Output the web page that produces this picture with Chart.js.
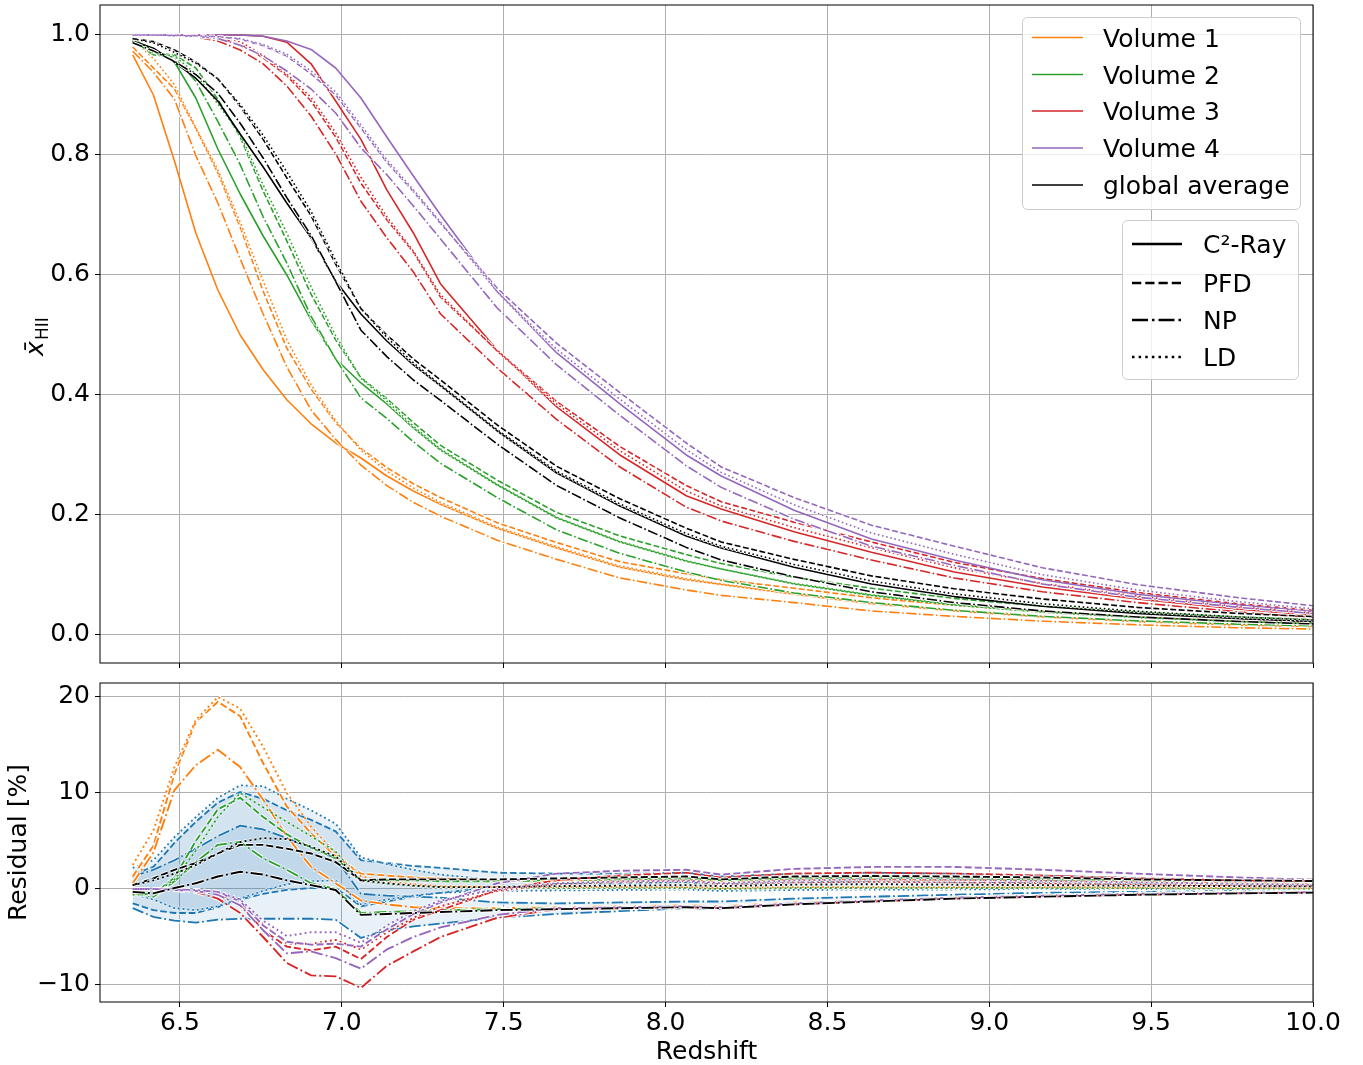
<!DOCTYPE html>
<html>
<head>
<meta charset="utf-8">
<script src="https://cdn.jsdelivr.net/npm/chart.js@4.4.0/dist/chart.umd.min.js"></script>
<style>
  html, body { margin: 0; padding: 0; background: #fff; }
  #wrap { position: relative; width: 1363px; height: 1065px; }
  #topChart { position: absolute; left: 0; top: 0; }
  #resChart { position: absolute; left: 0; top: 673px; }
</style>
</head>
<body>
<div id="wrap">
  <canvas id="topChart" width="1363" height="673"></canvas>
  <canvas id="resChart" width="1363" height="392"></canvas>
</div>
<script>
// Redshift samples and axis ticks
const redshift = [6.354, 6.418, 6.483, 6.549, 6.617, 6.686, 6.757, 6.830, 6.905, 6.981, 7.059, 7.139, 7.221,
  7.305, 7.480, 7.664, 7.859, 8.064, 8.172, 8.397, 8.636, 8.892, 9.164, 9.457, 9.771, 10.110];
const xTicks = [6.5, 7.0, 7.5, 8.0, 8.5, 9.0, 9.5, 10.0];
const topYTicks = [0, 0.2, 0.4, 0.6, 0.8, 1.0];
const resYTicks = [-10, 0, 10, 20];

const volumeNames = ["Volume 1", "Volume 2", "Volume 3", "Volume 4", "global average"];
const methodNames = ["C\u00B2-Ray", "PFD", "NP", "LD"];

// Mean ionized fraction, one array per volume and method
const v1C2  = [0.967, 0.90, 0.79, 0.67, 0.575, 0.50, 0.442, 0.392, 0.352, 0.32, 0.295, 0.265, 0.24, 0.218, 0.178, 0.145, 0.113, 0.092, 0.084, 0.068, 0.052, 0.04, 0.03, 0.022, 0.016, 0.012];
const v1PFD = [0.980, 0.945, 0.91, 0.844, 0.77, 0.68, 0.573, 0.478, 0.41, 0.354, 0.311, 0.279, 0.252, 0.229, 0.187, 0.154, 0.122, 0.102, 0.092, 0.078, 0.062, 0.0495, 0.039, 0.030, 0.023, 0.018];
const v1NP  = [0.973, 0.938, 0.893, 0.799, 0.72, 0.627, 0.535, 0.447, 0.375, 0.326, 0.283, 0.249, 0.221, 0.198, 0.158, 0.126, 0.095, 0.075, 0.066, 0.054, 0.04, 0.031, 0.023, 0.017, 0.012, 0.009];
const v1LD  = [0.992, 0.961, 0.917, 0.846, 0.775, 0.688, 0.59, 0.492, 0.417, 0.357, 0.308, 0.273, 0.245, 0.221, 0.18, 0.147, 0.115, 0.094, 0.085, 0.07, 0.054, 0.042, 0.032, 0.0235, 0.017, 0.013];

const v2C2  = [0.993, 0.975, 0.955, 0.895, 0.81, 0.735, 0.665, 0.60, 0.525, 0.46, 0.42, 0.385, 0.345, 0.308, 0.25, 0.195, 0.155, 0.123, 0.11, 0.085, 0.066, 0.05, 0.038, 0.029, 0.022, 0.017];
const v2PFD = [0.989, 0.969, 0.967, 0.945, 0.893, 0.83, 0.74, 0.657, 0.568, 0.492, 0.429, 0.394, 0.354, 0.316, 0.258, 0.204, 0.165, 0.134, 0.119, 0.096, 0.078, 0.061, 0.048, 0.038, 0.03, 0.024];
const v2NP  = [0.989, 0.967, 0.963, 0.923, 0.856, 0.784, 0.697, 0.62, 0.531, 0.46, 0.395, 0.361, 0.322, 0.286, 0.229, 0.175, 0.136, 0.105, 0.091, 0.07, 0.054, 0.041, 0.031, 0.0235, 0.018, 0.014];
const v2LD  = [0.987, 0.97, 0.965, 0.935, 0.885, 0.835, 0.75, 0.67, 0.58, 0.499, 0.428, 0.39, 0.348, 0.31, 0.251, 0.196, 0.156, 0.124, 0.11, 0.086, 0.067, 0.051, 0.039, 0.03, 0.0225, 0.0175];

const v3C2  = [1.0, 1.0, 1.0, 1.0, 1.0, 1.0, 0.998, 0.988, 0.952, 0.89, 0.826, 0.742, 0.67, 0.585, 0.475, 0.38, 0.30, 0.232, 0.21, 0.172, 0.138, 0.105, 0.08, 0.06, 0.043, 0.028];
const v3PFD = [1.0, 1.0, 1.0, 0.999, 0.9955, 0.985, 0.962, 0.932, 0.89, 0.83, 0.753, 0.692, 0.638, 0.563, 0.474, 0.389, 0.314, 0.249, 0.222, 0.188, 0.155, 0.121, 0.094, 0.071, 0.052, 0.036];
const v3NP  = [0.999, 0.999, 0.999, 0.997, 0.99, 0.975, 0.952, 0.915, 0.865, 0.802, 0.723, 0.662, 0.605, 0.535, 0.445, 0.359, 0.28, 0.213, 0.19, 0.156, 0.125, 0.095, 0.072, 0.054, 0.0385, 0.0245];
const v3LD  = [1.0, 1.0, 1.0, 0.999, 0.997, 0.989, 0.966, 0.935, 0.896, 0.837, 0.763, 0.697, 0.64, 0.567, 0.473, 0.385, 0.307, 0.24, 0.215, 0.179, 0.1455, 0.112, 0.086, 0.065, 0.047, 0.031];

const v4C2  = [1.0, 1.0, 1.0, 1.0, 1.0, 1.0, 0.998, 0.99, 0.976, 0.945, 0.895, 0.83, 0.765, 0.70, 0.572, 0.47, 0.385, 0.30, 0.265, 0.208, 0.16, 0.125, 0.092, 0.068, 0.05, 0.034];
const v4PFD = [1.0, 1.0, 0.9995, 0.999, 0.997, 0.993, 0.982, 0.965, 0.935, 0.9, 0.845, 0.788, 0.739, 0.686, 0.578, 0.486, 0.404, 0.32, 0.28, 0.229, 0.183, 0.148, 0.112, 0.084, 0.062, 0.0425];
const v4NP  = [1.0, 1.0, 0.999, 0.998, 0.994, 0.983, 0.965, 0.94, 0.91, 0.87, 0.812, 0.767, 0.715, 0.66, 0.545, 0.45, 0.366, 0.282, 0.246, 0.193, 0.148, 0.116, 0.085, 0.063, 0.046, 0.031];
const v4LD  = [1.0, 1.0, 0.9995, 0.999, 0.997, 0.994, 0.984, 0.968, 0.94, 0.905, 0.85, 0.792, 0.742, 0.688, 0.572, 0.476, 0.393, 0.309, 0.271, 0.217, 0.17, 0.1345, 0.1005, 0.075, 0.0555, 0.038];

const globC2  = [0.99, 0.978, 0.955, 0.928, 0.89, 0.835, 0.78, 0.72, 0.662, 0.59, 0.535, 0.49, 0.45, 0.415, 0.34, 0.27, 0.215, 0.165, 0.145, 0.113, 0.085, 0.064, 0.048, 0.036, 0.027, 0.02];
const globPFD = [0.994, 0.989, 0.975, 0.955, 0.927, 0.881, 0.826, 0.762, 0.699, 0.618, 0.544, 0.5, 0.46, 0.425, 0.35, 0.281, 0.227, 0.178, 0.155, 0.126, 0.0985, 0.077, 0.06, 0.046, 0.036, 0.028];
const globNP  = [0.987, 0.9735, 0.956, 0.934, 0.903, 0.853, 0.795, 0.729, 0.666, 0.589, 0.508, 0.464, 0.425, 0.391, 0.318, 0.249, 0.195, 0.146, 0.125, 0.097, 0.072, 0.054, 0.04, 0.03, 0.0225, 0.0165];
const globLD  = [0.994, 0.987, 0.971, 0.953, 0.927, 0.884, 0.833, 0.772, 0.706, 0.624, 0.544, 0.496, 0.4535, 0.417, 0.342, 0.273, 0.2185, 0.169, 0.148, 0.1175, 0.09, 0.0685, 0.052, 0.0395, 0.03, 0.0225];

// Residuals [%] against C2-Ray
const resV1PFD = [1.3, 4.5, 12.0, 17.4, 19.5, 18.0, 13.1, 8.6, 5.8, 3.4, 1.6, 1.4, 1.2, 1.1, 0.9, 0.9, 0.9, 1.0, 0.8, 1.0, 1.0, 0.95, 0.9, 0.8, 0.7, 0.6];
const resV1NP  = [0.6, 3.8, 10.3, 12.9, 14.5, 12.7, 9.3, 5.5, 2.3, 0.6, -1.2, -1.6, -1.9, -2.0, -2.0, -1.9, -1.8, -1.7, -1.8, -1.4, -1.2, -0.9, -0.7, -0.5, -0.4, -0.3];
const resV1LD  = [2.5, 6.1, 12.7, 17.6, 20.0, 18.8, 14.8, 10.0, 6.5, 3.7, 1.3, 0.8, 0.5, 0.3, 0.2, 0.2, 0.2, 0.2, 0.1, 0.2, 0.2, 0.2, 0.2, 0.15, 0.1, 0.1];
const resV2PFD = [-0.4, -0.6, 1.2, 5.0, 8.3, 9.5, 7.5, 5.7, 4.3, 3.2, 0.9, 0.9, 0.9, 0.8, 0.8, 0.9, 1.0, 1.1, 0.9, 1.1, 1.2, 1.1, 1.0, 0.9, 0.8, 0.7];
const resV2NP  = [-0.4, -0.8, 0.8, 2.8, 4.6, 4.9, 3.2, 2.0, 0.6, 0.0, -2.5, -2.4, -2.3, -2.2, -2.1, -2.0, -1.9, -1.8, -1.9, -1.5, -1.2, -0.9, -0.7, -0.55, -0.4, -0.3];
const resV2LD  = [-0.6, -0.5, 1.0, 4.0, 7.5, 10.0, 8.5, 7.0, 5.5, 3.9, 0.8, 0.5, 0.3, 0.2, 0.1, 0.1, 0.1, 0.1, 0.0, 0.1, 0.1, 0.1, 0.1, 0.1, 0.05, 0.05];
const resV3PFD = [0.0, 0.0, 0.0, -0.1, -0.45, -1.5, -4.3, -6.0, -6.4, -6.0, -7.3, -5.0, -3.2, -2.2, -0.1, 0.9, 1.4, 1.7, 1.2, 1.6, 1.7, 1.6, 1.4, 1.1, 0.9, 0.8];
const resV3NP  = [-0.1, -0.1, -0.1, -0.3, -1.0, -2.5, -5.0, -7.7, -9.0, -9.1, -10.3, -8.0, -6.5, -5.0, -3.0, -2.1, -2.0, -1.9, -2.0, -1.6, -1.3, -1.0, -0.8, -0.6, -0.45, -0.35];
const resV3LD  = [0.0, 0.0, 0.0, -0.1, -0.3, -1.1, -3.6, -5.7, -5.7, -5.3, -6.3, -4.5, -3.0, -1.8, -0.2, 0.5, 0.7, 0.8, 0.5, 0.7, 0.75, 0.7, 0.6, 0.5, 0.4, 0.3];
const resV4PFD = [0.0, 0.0, -0.05, -0.1, -0.3, -1.3, -3.8, -5.5, -5.8, -5.7, -6.0, -4.2, -2.6, -1.4, 0.6, 1.6, 1.9, 2.0, 1.5, 2.1, 2.3, 2.3, 2.0, 1.6, 1.2, 0.85];
const resV4NP  = [0.0, 0.0, -0.1, -0.2, -0.6, -1.7, -4.3, -6.7, -6.5, -7.2, -8.3, -6.3, -5.0, -4.0, -2.7, -2.0, -1.9, -1.8, -1.9, -1.5, -1.2, -0.9, -0.7, -0.5, -0.4, -0.3];
const resV4LD  = [0.0, 0.0, -0.05, -0.1, -0.3, -1.1, -3.3, -4.9, -4.5, -4.5, -5.6, -3.8, -2.3, -1.2, 0.0, 0.6, 0.8, 0.9, 0.6, 0.9, 1.0, 0.95, 0.85, 0.7, 0.55, 0.4];
const resGlobPFD = [0.4, 1.1, 2.0, 2.7, 3.7, 4.6, 4.6, 4.2, 3.7, 2.8, 0.9, 1.0, 1.0, 1.0, 1.0, 1.1, 1.2, 1.3, 1.0, 1.3, 1.35, 1.3, 1.2, 1.0, 0.9, 0.8];
const resGlobNP  = [-0.3, -0.45, 0.1, 0.6, 1.3, 1.8, 1.5, 0.9, 0.4, -0.1, -2.7, -2.6, -2.5, -2.4, -2.2, -2.1, -2.0, -1.9, -2.0, -1.6, -1.3, -1.0, -0.8, -0.6, -0.45, -0.35];
const resGlobLD  = [0.4, 0.9, 1.6, 2.5, 3.7, 4.9, 5.3, 5.2, 4.4, 3.4, 0.9, 0.6, 0.35, 0.2, 0.2, 0.3, 0.35, 0.4, 0.3, 0.45, 0.5, 0.45, 0.4, 0.35, 0.3, 0.25];

// Blue spread bands, upper and lower edge per method
const bandPFDup = [1.5, 2.3, 4.8, 7.0, 9.0, 10.1, 9.4, 8.2, 7.2, 6.0, 3.0, 2.7, 2.4, 2.2, 1.7, 1.6, 1.6, 1.7, 1.3, 1.6, 1.7, 1.6, 1.4, 1.15, 0.95, 0.75];
const bandPFDlo = [-1.5, -2.2, -2.5, -2.5, -1.9, -1.1, -0.5, -0.1, 0.1, 0.1, -1.8, -1.3, -0.8, -0.4, 0.2, 0.5, 0.6, 0.7, 0.45, 0.7, 0.8, 0.75, 0.65, 0.55, 0.45, 0.4];
const bandNPup  = [1.3, 2.0, 3.0, 4.2, 5.5, 6.6, 6.2, 5.3, 4.3, 3.2, -0.5, -0.7, -0.8, -0.9, -1.4, -1.5, -1.4, -1.3, -1.3, -1.0, -0.8, -0.6, -0.4, -0.3, -0.2, -0.15];
const bandNPlo  = [-2.0, -2.9, -3.3, -3.5, -3.2, -3.1, -3.1, -3.1, -3.1, -3.2, -5.1, -4.3, -3.9, -3.6, -3.0, -2.6, -2.3, -2.0, -2.1, -1.6, -1.3, -1.0, -0.8, -0.6, -0.45, -0.35];
const bandLDup  = [2.2, 3.0, 5.4, 7.5, 9.5, 10.8, 10.7, 9.4, 8.2, 6.8, 3.3, 2.6, 2.0, 1.5, 0.9, 0.9, 0.9, 1.0, 0.7, 0.9, 1.0, 0.95, 0.8, 0.65, 0.5, 0.4];
const bandLDlo  = [-0.5, -1.1, -2.0, -2.2, -1.8, -1.0, -0.2, 0.5, 0.8, 0.9, -1.6, -1.1, -0.7, -0.4, -0.2, -0.15, -0.1, -0.05, -0.2, -0.1, -0.05, -0.05, 0, 0, 0, 0];

const ORANGE = "#ff7f0e", GREEN = "#2ca02c", RED = "#d62728", PURPLE = "#9467bd", BLACK = "#000000", BLUE = "#1f77b4";
const groupColors = [ORANGE, GREEN, RED, PURPLE, BLACK];

Chart.defaults.font.family = '"DejaVu Sans", sans-serif';
Chart.defaults.color = "#000";

// matplotlib style dash patterns, scaled by line width
function dashFor(style, lw) {
  if (style === "dashed") return [3.7 * lw, 1.6 * lw];
  if (style === "dashdot") return [6.4 * lw, 1.6 * lw, 1 * lw, 1.6 * lw];
  if (style === "dotted") return [1 * lw, 1.65 * lw];
  return [];
}

function pts(arr) {
  return redshift.map((z, i) => ({ x: z, y: arr[i] }));
}

// push a line (with white halo for non-solid styles), return index of the coloured one
function addLine(list, arr, color, style, lw, extra) {
  if (style !== "solid") {
    list.push({
      data: pts(arr), borderColor: "#ffffff", borderWidth: lw + 2, borderDash: dashFor(style, lw),
      pointRadius: 0, fill: false, tension: 0, borderCapStyle: "butt"
    });
  }
  list.push(Object.assign({
    data: pts(arr), borderColor: color, borderWidth: lw, borderDash: dashFor(style, lw),
    pointRadius: 0, fill: false, tension: 0, borderCapStyle: "butt", borderJoinStyle: "round"
  }, extra || {}));
  return list.length - 1;
}

function finishOrder(list) {
  list.forEach((d, i) => { d.order = -i; });
  return list;
}

// top panel datasets
const topSeries = [
  [v1C2, v1PFD, v1NP, v1LD],
  [v2C2, v2PFD, v2NP, v2LD],
  [v3C2, v3PFD, v3NP, v3LD],
  [v4C2, v4PFD, v4NP, v4LD],
  [globC2, globPFD, globNP, globLD]
];
const styles = ["solid", "dashed", "dashdot", "dotted"];
const topSets = [];
topSeries.forEach((group, g) => {
  group.forEach((arr, m) => addLine(topSets, arr, groupColors[g], styles[m], 1.6));
});
finishOrder(topSets);

// residual panel datasets
const resSets = [];
const bandFill = "rgba(31,119,180,0.1)";
[[bandPFDlo, bandPFDup, "dashed"], [bandNPlo, bandNPup, "dashdot"], [bandLDlo, bandLDup, "dotted"]].forEach(b => {
  const lo = addLine(resSets, b[0], BLUE, b[2], 1.8);
  addLine(resSets, b[1], BLUE, b[2], 1.8, { fill: { target: lo }, backgroundColor: bandFill });
});
const resSeries = [
  [resV1PFD, resV1NP, resV1LD],
  [resV2PFD, resV2NP, resV2LD],
  [resV3PFD, resV3NP, resV3LD],
  [resV4PFD, resV4NP, resV4LD],
  [resGlobPFD, resGlobNP, resGlobLD]
];
resSeries.forEach((group, g) => {
  group.forEach((arr, m) => addLine(resSets, arr, groupColors[g], styles[m + 1], 1.9));
});
finishOrder(resSets);

// frame round the plotting area
const framePlugin = {
  id: "frame",
  afterDatasetsDraw(chart) {
    const { ctx, chartArea: a } = chart;
    ctx.save();
    ctx.strokeStyle = "#000";
    ctx.lineWidth = 1;
    ctx.strokeRect(a.left, a.top, a.right - a.left, a.bottom - a.top);
    ctx.restore();
  }
};

function legendBox(ctx, x0, y0, x1, y1) {
  ctx.save();
  ctx.beginPath();
  ctx.roundRect(x0, y0, x1 - x0, y1 - y0, 5);
  ctx.fillStyle = "rgba(255,255,255,0.8)";
  ctx.fill();
  ctx.strokeStyle = "#cccccc";
  ctx.lineWidth = 1;
  ctx.stroke();
  ctx.restore();
}

function legendLine(ctx, x0, x1, y, color, style, lw) {
  ctx.save();
  ctx.strokeStyle = color;
  ctx.lineWidth = lw;
  ctx.setLineDash(dashFor(style, lw));
  ctx.beginPath();
  ctx.moveTo(x0, y);
  ctx.lineTo(x1, y);
  ctx.stroke();
  ctx.restore();
}

// legends and the y label of the top panel
const topDecor = {
  id: "topDecor",
  afterDraw(chart) {
    const ctx = chart.ctx;
    ctx.save();
    ctx.font = '25px "DejaVu Sans"';
    ctx.fillStyle = "#000";
    ctx.textBaseline = "alphabetic";
    ctx.textAlign = "left";

    legendBox(ctx, 1022.5, 17.5, 1300.5, 209.5);
    const rows1 = [37.5, 74.5, 111, 148, 185];
    volumeNames.forEach((name, i) => {
      legendLine(ctx, 1032, 1083, rows1[i], groupColors[i], "solid", 1.5);
      ctx.fillText(name, 1103, rows1[i] + 9);
    });

    legendBox(ctx, 1122.5, 220.5, 1298.5, 379.5);
    const rows2 = [244, 283, 320, 357];
    methodNames.forEach((name, i) => {
      legendLine(ctx, 1132, 1182, rows2[i], BLACK, styles[i], 2.5);
      ctx.fillText(name, 1203, rows2[i] + 9);
    });

    // y label: x-bar with subscript HII
    ctx.translate(43, 336);
    ctx.rotate(-Math.PI / 2);
    ctx.font = 'italic 25px "DejaVu Sans"';
    ctx.fillText("x\u0304", -20, 0);
    ctx.font = '17px "DejaVu Sans"';
    ctx.fillText("HII", -4, 5);
    ctx.restore();
  }
};

function tickSetter(values) {
  return scale => { scale.ticks = values.map(v => ({ value: v })); };
}

// fixed axis box size, no extra label padding
function fixBox(w, h) {
  return scale => {
    if (w !== null) scale.width = w;
    if (h !== null) scale.height = h;
    scale.paddingTop = 0; scale.paddingBottom = 0;
    scale.paddingLeft = 0; scale.paddingRight = 0;
  };
}

const gridOpts = { color: "#b0b0b0", lineWidth: 1, tickLength: 5, tickColor: "#000", drawTicks: true };

new Chart(document.getElementById("topChart"), {
  type: "line",
  data: { datasets: topSets },
  options: {
    responsive: false,
    animation: false,
    events: [],
    layout: { padding: { left: 0, right: 50, top: 5, bottom: 10 } },
    plugins: { legend: { display: false }, tooltip: { enabled: false } },
    scales: {
      x: {
        type: "linear", min: 6.253, max: 10.0,
        afterBuildTicks: tickSetter(xTicks),
        ticks: { display: false },
        grid: gridOpts,
        border: { display: false },
        afterFit: fixBox(null, 0)
      },
      y: {
        type: "linear", min: -0.0467, max: 1.05,
        afterBuildTicks: tickSetter(topYTicks),
        ticks: { callback: v => v.toFixed(1), font: { size: 25 }, color: "#000", padding: 5 },
        grid: gridOpts,
        border: { display: false },
        afterFit: fixBox(100, null)
      }
    }
  },
  plugins: [framePlugin, topDecor]
});

new Chart(document.getElementById("resChart"), {
  type: "line",
  data: { datasets: resSets },
  options: {
    responsive: false,
    animation: false,
    events: [],
    layout: { padding: { left: 0, right: 50, top: 10, bottom: 0 } },
    plugins: { legend: { display: false }, tooltip: { enabled: false } },
    scales: {
      x: {
        type: "linear", min: 6.253, max: 10.0,
        afterBuildTicks: tickSetter(xTicks),
        ticks: { callback: v => v.toFixed(1), font: { size: 25 }, color: "#000", padding: 1, maxRotation: 0 },
        grid: gridOpts,
        border: { display: false },
        title: { display: true, text: "Redshift", font: { size: 25, lineHeight: 1.0 }, color: "#000", padding: { top: 0, bottom: 0 } },
        afterFit: fixBox(null, 63)
      },
      y: {
        type: "linear", min: -11.771, max: 21.458,
        afterBuildTicks: tickSetter(resYTicks),
        ticks: { callback: v => (v < 0 ? "\u2212" + Math.abs(v) : String(v)), font: { size: 25 }, color: "#000", padding: 5 },
        grid: gridOpts,
        border: { display: false },
        title: { display: true, text: "Residual [%]", font: { size: 25 }, color: "#000", padding: { top: 4, bottom: 4 } },
        afterFit: fixBox(100, null)
      }
    }
  },
  plugins: [framePlugin]
});
</script>
</body>
</html>
